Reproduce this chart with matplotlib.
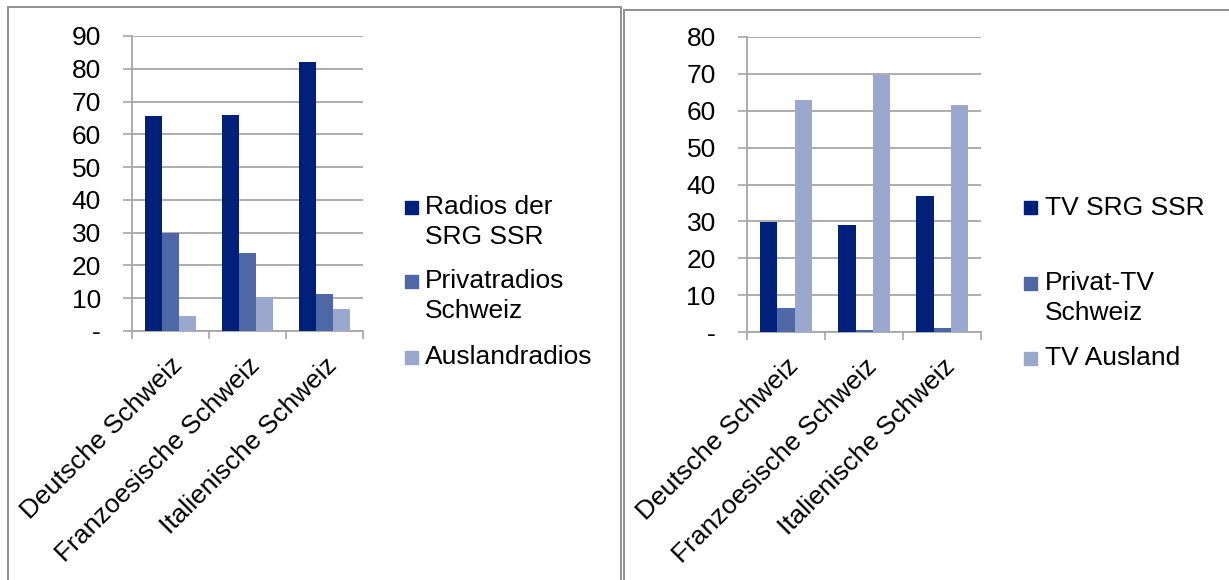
#!/usr/bin/env python3
"""Two Excel-style grouped bar charts: radio and TV market shares by language region."""

import matplotlib
matplotlib.use("Agg")
import matplotlib.pyplot as plt
from matplotlib.patches import Rectangle

plt.rcParams["font.family"] = ["Liberation Sans", "DejaVu Sans"]

REGIONS = ["Deutsche Schweiz", "Franzoesische Schweiz", "Italienische Schweiz"]

RADIO_LABELS = ["Radios der\nSRG SSR", "Privatradios\nSchweiz", "Auslandradios"]
RADIO_SRG    = [65.5, 65.9, 82.0]
RADIO_PRIV   = [30.0, 23.8, 11.2]
RADIO_AUS    = [4.7, 10.5, 6.6]
RADIO_TICKS  = [0, 10, 20, 30, 40, 50, 60, 70, 80, 90]

TV_LABELS = ["TV SRG SSR", "Privat-TV\nSchweiz", "TV Ausland"]
TV_SRG    = [29.8, 29.0, 37.0]
TV_PRIV   = [6.6, 0.6, 1.1]
TV_AUS    = [63.0, 69.8, 61.6]
TV_TICKS  = [0, 10, 20, 30, 40, 50, 60, 70, 80]

COLORS = ["#00207a", "#4f67a5", "#99a8cc"]
GRID   = "#a6a6a6"
FS     = 19
W, H   = 1229, 580


def draw_bars(ax, series, ticks):
    n = len(REGIONS)
    width = 1 / 4.5
    for i, vals in enumerate(series):
        xs = [k + 0.5 + (i - 1) * width for k in range(n)]
        ax.bar(xs, vals, width=width, color=COLORS[i], zorder=3)
    ax.set_xlim(0, n)
    ax.set_ylim(0, ticks[-1])
    ax.set_yticks(ticks)
    ax.set_yticklabels(["-" if t == 0 else str(t) for t in ticks], fontsize=FS)
    ax.yaxis.grid(True, color=GRID, linewidth=1.3, zorder=0)
    ax.tick_params(axis="y", direction="out", length=6.5, width=1.2, color=GRID, pad=16)
    # category boundaries as major ticks, labels on minor ticks at centres
    ax.set_xticks(range(n + 1))
    ax.set_xticklabels([])
    ax.set_xticks([k + 0.5 for k in range(n)], minor=True)
    ax.set_xticklabels(REGIONS, minor=True, rotation=45, ha="right", va="top",
                       rotation_mode="anchor", fontsize=FS)
    ax.tick_params(axis="x", which="major", direction="out", length=6, width=1.2, color=GRID)
    ax.tick_params(axis="x", which="minor", length=0, pad=16)
    for side in ("top", "right"):
        ax.spines[side].set_visible(False)
    for side in ("left", "bottom"):
        ax.spines[side].set_color(GRID)
        ax.spines[side].set_linewidth(1.3)
    ax.set_axisbelow(True)


def draw_legend(fig, labels, sq_x, txt_x, ys):
    for i, (lab, y) in enumerate(zip(labels, ys)):
        fig.patches.append(Rectangle((sq_x / W, 1 - (y + 6.5) / H), 13 / W, 13 / H,
                                     transform=fig.transFigure, color=COLORS[i]))
        fig.text(txt_x / W, 1 - (y - 12) / H, lab, fontsize=FS, va="top", ha="left",
                 linespacing=1.3)


def main():
    fig = plt.figure(figsize=(W / 100, H / 100), dpi=100)

    # panel frames
    fig.patches.append(Rectangle((7.5 / W, -0.05), (621 - 7.5) / W, 1.05 - 7 / H,
                                 transform=fig.transFigure, fill=False,
                                 edgecolor="#8f8f8f", linewidth=1.4))
    fig.patches.append(Rectangle((623.5 / W, -0.05), 1.0, 1.05 - 9.5 / H,
                                 transform=fig.transFigure, fill=False,
                                 edgecolor="#8f8f8f", linewidth=1.4))

    ax1 = fig.add_axes([132 / W, 1 - 331 / H, 231 / W, 295 / H])
    draw_bars(ax1, [RADIO_SRG, RADIO_PRIV, RADIO_AUS], RADIO_TICKS)
    draw_legend(fig, RADIO_LABELS, 405, 425, [207, 281, 357])

    ax2 = fig.add_axes([747 / W, 1 - 332 / H, 234.5 / W, 295 / H])
    draw_bars(ax2, [TV_SRG, TV_PRIV, TV_AUS], TV_TICKS)
    draw_legend(fig, TV_LABELS, 1024, 1045, [208, 283, 358])

    fig.savefig("out.png", dpi=100)
    plt.close(fig)


if __name__ == "__main__":
    main()
